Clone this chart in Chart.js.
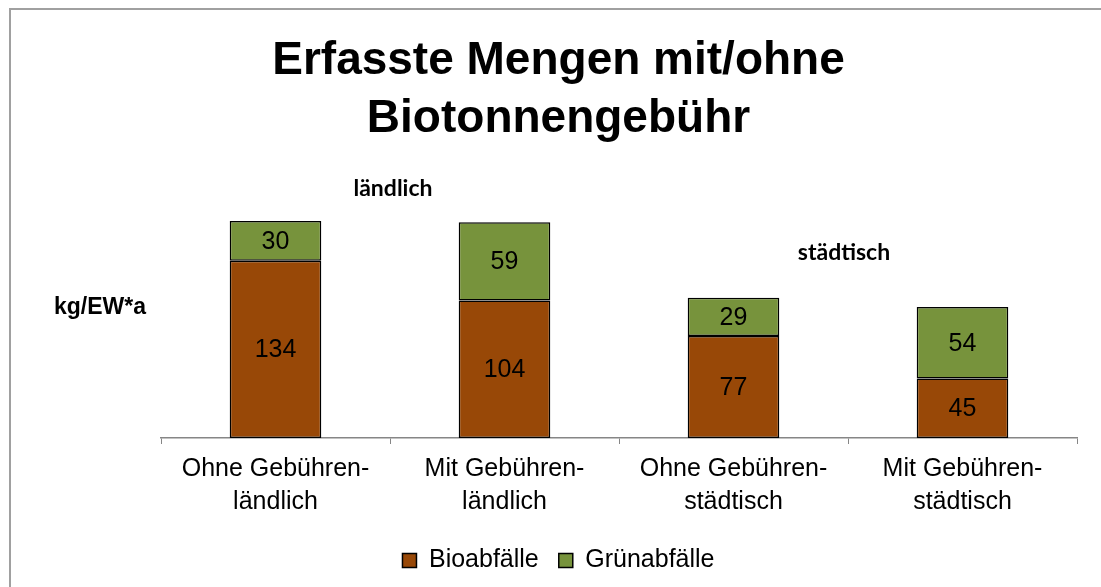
<!DOCTYPE html>
<html>
<head>
<meta charset="utf-8">
<script src="https://cdn.jsdelivr.net/npm/chart.js@4"></script>
<style>
  body { margin: 0; background: #fff; }
  #wrap { position: relative; width: 1101px; height: 587px; }
</style>
</head>
<body>
<div id="wrap"><canvas id="chart" width="1101" height="587"></canvas></div>
<script>
// categories (two-line labels)
const categories = [
    ['Ohne Gebühren-', 'ländlich'],
    ['Mit Gebühren-', 'ländlich'],
    ['Ohne Gebühren-', 'städtisch'],
    ['Mit Gebühren-', 'städtisch']
];
// series values, kg/EW*a
const bioabfaelle = [134, 104, 77, 45];
const gruenabfaelle = [30, 59, 29, 54];
const seriesNames = ['Bioabfälle', 'Grünabfälle'];

const FONT = 'Arial, "Liberation Sans", sans-serif';

//frame, y-axis title, notes and value labels
const extras = {
    id: 'extras',
    beforeDraw(chart) {
        const ctx = chart.ctx;
        ctx.save();
        ctx.strokeStyle = '#a0a0a0';
        ctx.lineWidth = 2;
        ctx.beginPath();
        ctx.moveTo(10, 600);
        ctx.lineTo(10, 9);
        ctx.lineTo(1110, 9);
        ctx.stroke();
        ctx.restore();
    },
    afterDatasetsDraw(chart) {
        const ctx = chart.ctx;
        ctx.save();
        ctx.fillStyle = '#000';
        ctx.textAlign = 'center';
        ctx.textBaseline = 'middle';
        //values inside the segments
        ctx.font = '25px ' + FONT;
        chart.data.datasets.forEach((ds, i) => {
            chart.getDatasetMeta(i).data.forEach((bar, j) => {
                const p = bar.getProps(['x', 'y', 'base'], true);
                ctx.fillText(ds.data[j], p.x, (p.y + p.base) / 2 + 1);
            });
        });
        //axis title
        ctx.font = 'bold 23px ' + FONT;
        ctx.fillText('kg/EW*a', 100, 308);
        //notes
        ctx.font = 'bold 23px Lato, "Open Sans", sans-serif';
        ctx.fillText('ländlich', 393, 189);
        ctx.fillText('städtisch', 844, 253);
        ctx.restore();
    }
};

new Chart(document.getElementById('chart'), {
    type: 'bar',
    data: {
        labels: categories,
        datasets: [{
            label: seriesNames[0],
            data: bioabfaelle,
            backgroundColor: '#984807',
            borderColor: '#000',
            borderWidth: 1.5,
            borderSkipped: false
        }, {
            label: seriesNames[1],
            data: gruenabfaelle,
            backgroundColor: '#77933C',
            borderColor: '#000',
            borderWidth: 1.5,
            borderSkipped: false
        }]
    },
    options: {
        responsive: false,
        animation: false,
        layout: { padding: { left: 16, right: 0, top: 0, bottom: 4 } },
        datasets: { bar: { categoryPercentage: 1, barPercentage: 0.4 } },
        scales: {
            x: {
                stacked: true,
                grid: { display: true, drawOnChartArea: false, tickLength: 6, color: '#868686' },
                border: { color: '#868686', width: 1.5 },
                ticks: { color: '#000', font: { family: FONT, size: 25, lineHeight: 1.32 }, padding: 9, maxRotation: 0 }
            },
            y: {
                stacked: true,
                position: 'left',
                min: 0,
                max: 180,
                grid: { display: false },
                border: { display: false },
                ticks: { display: false },
                afterFit: (s) => { s.width = 145; }
            },
            //empty right axis, only keeps the right margin
            yr: {
                position: 'right',
                grid: { display: false },
                border: { display: false },
                ticks: { display: false },
                afterFit: (s) => { s.width = 24; }
            }
        },
        plugins: {
            title: {
                display: true,
                text: ['Erfasste Mengen mit/ohne', 'Biotonnengebühr'],
                color: '#000',
                font: { family: FONT, size: 46, weight: 'bold', lineHeight: 1.27 },
                padding: { top: 32, bottom: 51 }
            },
            legend: {
                position: 'bottom',
                labels: {
                    color: '#000',
                    font: { family: FONT, size: 25 },
                    boxWidth: 14,
                    boxHeight: 14,
                    padding: 20
                }
            },
            tooltip: { enabled: false }
        }
    },
    plugins: [extras]
});
</script>
</body>
</html>
